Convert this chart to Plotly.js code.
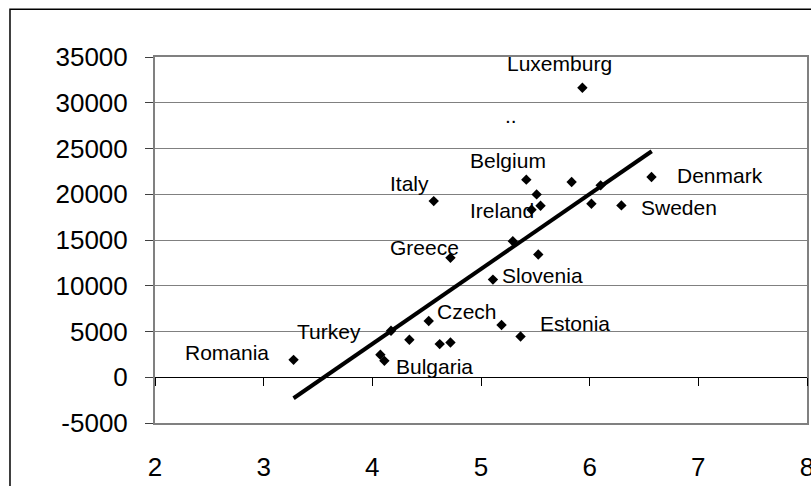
<!DOCTYPE html>
<html>
<head>
<meta charset="utf-8">
<script src="https://cdn.plot.ly/plotly-3.0.1.min.js"></script>
<style>
  html, body { margin: 0; padding: 0; background: #ffffff; }
  #chart { width: 811px; height: 486px; }
</style>
</head>
<body>
<div id="chart"></div>
<script>
// Country observations: x value and y value
const pointX = [3.275, 4.074, 4.111, 4.172, 4.341, 4.519, 4.620, 4.719, 5.189, 5.364,
                5.110, 4.565, 5.417, 5.834, 6.101, 5.512, 5.548, 5.465, 6.016, 6.292,
                6.569, 5.293, 5.527, 4.719, 5.933];
const pointY = [1904, 2452, 1795, 5082, 4096, 6145, 3625, 3800, 5707, 4458,
                10671, 19252, 21597, 21334, 20972, 19986, 18748, 18310, 18967, 18781,
                21882, 14868, 13410, 13049, 31636];

// Linear trend line end points
const trendX = [3.275, 6.571];
const trendY = [-2294, 24699];

// Country labels and where their text sits
const labelText = ["Luxemburg", "Belgium", "Italy", "Denmark", "Ireland", "Sweden", "Greece",
                   "Slovenia", "Czech", "Estonia", "Turkey", "Romania", "Bulgaria", ".."];
const labelX = [5.725, 5.244, 4.339, 7.203, 5.189, 6.820, 4.479,
                5.567, 4.871, 5.862, 3.597, 2.664, 4.571, 5.272];
const labelY = [34342, 23712, 21142, 22068, 18233, 18594, 14211,
                11109, 7164, 5849, 5005, 2671, 1169, 28567];

// Axis ticks
const xTicks = [2, 3, 4, 5, 6, 7, 8];
const yTicks = [-5000, 0, 5000, 10000, 15000, 20000, 25000, 30000, 35000];

const FONT = "Liberation Sans, Arial, sans-serif";

const traces = [
  {
    type: "scatter",
    mode: "lines",
    x: trendX,
    y: trendY,
    xaxis: "x2",
    line: { color: "#000000", width: 4 },
    hoverinfo: "skip"
  },
  {
    type: "scatter",
    mode: "markers",
    x: pointX,
    y: pointY,
    marker: { symbol: "diamond", size: 8, color: "#000000", line: { width: 0 } },
    hoverinfo: "skip"
  }
];

const annotations = labelText.map((t, i) => ({
  x: labelX[i],
  y: labelY[i],
  xref: "x",
  yref: "y",
  text: t,
  showarrow: false,
  xanchor: "center",
  yanchor: "middle",
  font: { family: FONT, size: 21, color: "#000000" }
}));

const layout = {
  width: 811,
  height: 486,
  margin: { l: 155, r: 4, t: 57, b: 63, pad: 0 },
  paper_bgcolor: "#ffffff",
  plot_bgcolor: "#ffffff",
  showlegend: false,
  font: { family: FONT, color: "#000000" },
  xaxis: {
    range: [2, 8],
    tickvals: xTicks,
    ticktext: xTicks.map(String),
    showgrid: false,
    zeroline: false,
    showline: true,
    mirror: true,
    linecolor: "#808080",
    linewidth: 2,
    ticks: "",
    ticklabelstandoff: 20,
    ticklabeloverflow: "allow",
    tickfont: { family: FONT, size: 26, color: "#000000" }
  },
  // Horizontal axis line drawn through y = 0 with its tick marks
  xaxis2: {
    overlaying: "x",
    anchor: "free",
    position: 5000 / 40000,
    range: [2, 8],
    tickvals: xTicks,
    showgrid: false,
    zeroline: false,
    showline: true,
    linecolor: "#000000",
    linewidth: 1,
    ticks: "outside",
    ticklen: 8,
    tickcolor: "#000000",
    tickwidth: 1,
    showticklabels: false
  },
  yaxis: {
    range: [-5000, 35000],
    tickvals: yTicks,
    ticktext: yTicks.map(String),
    showgrid: true,
    gridcolor: "#808080",
    gridwidth: 1,
    zeroline: false,
    showline: true,
    mirror: true,
    linecolor: "#808080",
    linewidth: 2,
    ticks: "outside",
    ticklen: 8,
    tickcolor: "#404040",
    tickwidth: 1,
    ticklabelstandoff: 12,
    tickfont: { family: FONT, size: 26, color: "#000000" }
  },
  annotations: annotations,
  shapes: [
    {
      // outer chart frame
      type: "rect",
      xref: "paper",
      yref: "paper",
      x0: -0.2224,
      x1: 1.2,
      y0: -0.5,
      y1: 1.1303,
      line: { color: "#000000", width: 1.5 },
      fillcolor: "rgba(0,0,0,0)",
      layer: "below"
    }
  ]
};

Plotly.newPlot("chart", traces, layout, { staticPlot: true, displayModeBar: false });
</script>
</body>
</html>
